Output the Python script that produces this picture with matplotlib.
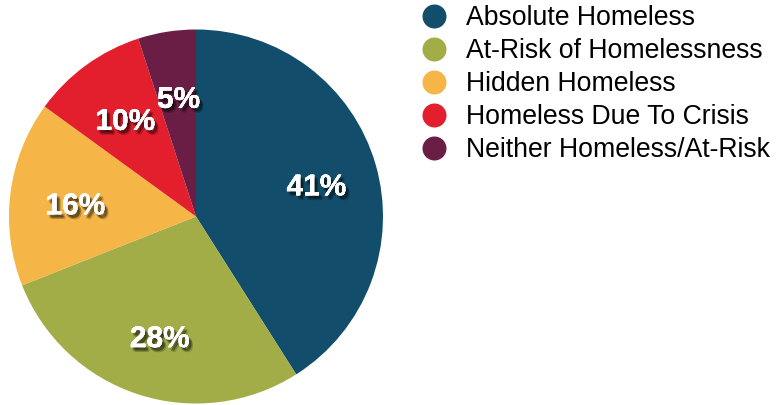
import matplotlib.pyplot as plt
import matplotlib.patheffects as pe

categories = [
    "Absolute Homeless",
    "At-Risk of Homelessness",
    "Hidden Homeless",
    "Homeless Due To Crisis",
    "Neither Homeless/At-Risk",
]
shares = [41, 28, 16, 10, 5]
colors = ["#124E6B", "#A3AD48", "#F5B547", "#E31E2D", "#6B1E45"]

plt.rcParams["font.family"] = ["Liberation Sans", "DejaVu Sans"]

W, H = 776, 406
fig = plt.figure(figsize=(W / 100, H / 100), dpi=100)

# pie area, in pixels
cx, cy, r = 196, 217.5, 187
ax = fig.add_axes([(cx - r) / W, (H - cy - r) / H, 2 * r / W, 2 * r / H])
wedges, texts, autotexts = ax.pie(
    shares,
    colors=colors,
    startangle=90,
    counterclock=False,
    autopct="%d%%",
    pctdistance=0.66,
    wedgeprops={"linewidth": 0},
    textprops={"color": "white", "fontsize": 21.5, "fontweight": "bold"},
)
# soft drop shadow built from a few offset copies
shadow = []
for dx, dy in [(1, -1.5), (2, -2.5), (3, -3.5), (2.5, -2), (1.5, -3)]:
    shadow.append(pe.withSimplePatchShadow(offset=(dx, dy), shadow_rgbFace="black", alpha=0.18))
shadow.append(pe.Normal())
for t in autotexts:
    t.set_path_effects(shadow)
    t.set_va("center_baseline")
    x, y = t.get_position()
    t.set_position((x + 0.01, y - 0.012))
ax.set_xlim(-1, 1)
ax.set_ylim(-1, 1)
ax.set_aspect("equal")
ax.axis("off")

# legend drawn on an overlay axes in pixel coordinates
lg = fig.add_axes([0, 0, 1, 1])
lg.set_xlim(0, W)
lg.set_ylim(H, 0)
lg.axis("off")
row_top, row_step = 17, 33
for i, (name, col) in enumerate(zip(categories, colors)):
    y = row_top + i * row_step
    lg.scatter([434], [y], s=(24 * 0.72) ** 2, color=col, linewidths=0)
    lg.text(466, y + 1, name, fontsize=19.2, va="center", ha="left", color="black")

fig.savefig("out.png", dpi=100)
